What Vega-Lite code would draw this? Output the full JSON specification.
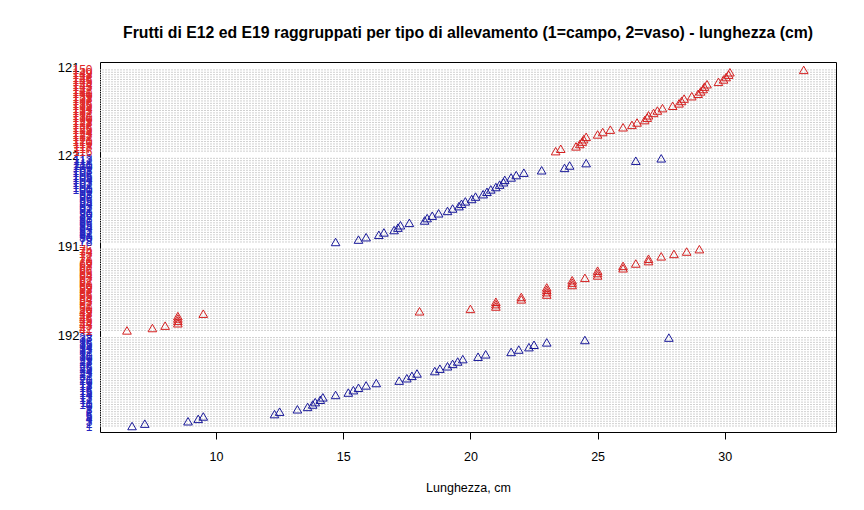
{
  "$schema": "https://vega.github.io/schema/vega-lite/v6.json",
  "width": 736,
  "height": 370,
  "autosize": {"type": "none"},
  "padding": {"left": 100, "top": 62, "right": 28, "bottom": 78},
  "background": "white",
  "config": {
    "view": {"stroke": "black", "strokeWidth": 1},
    "font": "Liberation Sans"
  },
  "title": {
    "text": "Frutti di E12 ed E19 raggruppati per tipo di allevamento (1=campo, 2=vaso) - lunghezza (cm)",
    "fontSize": 15.8,
    "fontWeight": "bold",
    "font": "Liberation Sans",
    "anchor": "middle",
    "color": "black",
    "offset": 20
  },
  "data": {
    "values": [
      {"g": "192", "tipo": "2", "row": 1, "lunghezza": 6.7},
      {"g": "192", "tipo": "2", "row": 2, "lunghezza": 7.2},
      {"g": "192", "tipo": "2", "row": 3, "lunghezza": 8.9},
      {"g": "192", "tipo": "2", "row": 4, "lunghezza": 9.3},
      {"g": "192", "tipo": "2", "row": 5, "lunghezza": 9.5},
      {"g": "192", "tipo": "2", "row": 6, "lunghezza": 12.3},
      {"g": "192", "tipo": "2", "row": 7, "lunghezza": 12.5},
      {"g": "192", "tipo": "2", "row": 8, "lunghezza": 13.2},
      {"g": "192", "tipo": "2", "row": 9, "lunghezza": 13.6},
      {"g": "192", "tipo": "2", "row": 10, "lunghezza": 13.8},
      {"g": "192", "tipo": "2", "row": 11, "lunghezza": 13.9},
      {"g": "192", "tipo": "2", "row": 12, "lunghezza": 14.1},
      {"g": "192", "tipo": "2", "row": 13, "lunghezza": 14.2},
      {"g": "192", "tipo": "2", "row": 14, "lunghezza": 14.7},
      {"g": "192", "tipo": "2", "row": 15, "lunghezza": 15.2},
      {"g": "192", "tipo": "2", "row": 16, "lunghezza": 15.4},
      {"g": "192", "tipo": "2", "row": 17, "lunghezza": 15.6},
      {"g": "192", "tipo": "2", "row": 18, "lunghezza": 15.9},
      {"g": "192", "tipo": "2", "row": 19, "lunghezza": 16.3},
      {"g": "192", "tipo": "2", "row": 20, "lunghezza": 17.2},
      {"g": "192", "tipo": "2", "row": 21, "lunghezza": 17.5},
      {"g": "192", "tipo": "2", "row": 22, "lunghezza": 17.7},
      {"g": "192", "tipo": "2", "row": 23, "lunghezza": 17.9},
      {"g": "192", "tipo": "2", "row": 24, "lunghezza": 18.6},
      {"g": "192", "tipo": "2", "row": 25, "lunghezza": 18.8},
      {"g": "192", "tipo": "2", "row": 26, "lunghezza": 19.1},
      {"g": "192", "tipo": "2", "row": 27, "lunghezza": 19.3},
      {"g": "192", "tipo": "2", "row": 28, "lunghezza": 19.5},
      {"g": "192", "tipo": "2", "row": 29, "lunghezza": 19.7},
      {"g": "192", "tipo": "2", "row": 30, "lunghezza": 20.3},
      {"g": "192", "tipo": "2", "row": 31, "lunghezza": 20.6},
      {"g": "192", "tipo": "2", "row": 32, "lunghezza": 21.6},
      {"g": "192", "tipo": "2", "row": 33, "lunghezza": 21.9},
      {"g": "192", "tipo": "2", "row": 34, "lunghezza": 22.3},
      {"g": "192", "tipo": "2", "row": 35, "lunghezza": 22.5},
      {"g": "192", "tipo": "2", "row": 36, "lunghezza": 23.0},
      {"g": "192", "tipo": "2", "row": 37, "lunghezza": 24.5},
      {"g": "192", "tipo": "2", "row": 38, "lunghezza": 27.8},
      {"g": "191", "tipo": "1", "row": 41, "lunghezza": 6.5},
      {"g": "191", "tipo": "1", "row": 42, "lunghezza": 7.5},
      {"g": "191", "tipo": "1", "row": 43, "lunghezza": 8.0},
      {"g": "191", "tipo": "1", "row": 44, "lunghezza": 8.5},
      {"g": "191", "tipo": "1", "row": 45, "lunghezza": 8.5},
      {"g": "191", "tipo": "1", "row": 46, "lunghezza": 8.5},
      {"g": "191", "tipo": "1", "row": 47, "lunghezza": 8.5},
      {"g": "191", "tipo": "1", "row": 48, "lunghezza": 9.5},
      {"g": "191", "tipo": "1", "row": 49, "lunghezza": 18.0},
      {"g": "191", "tipo": "1", "row": 50, "lunghezza": 20.0},
      {"g": "191", "tipo": "1", "row": 51, "lunghezza": 21.0},
      {"g": "191", "tipo": "1", "row": 52, "lunghezza": 21.0},
      {"g": "191", "tipo": "1", "row": 53, "lunghezza": 21.0},
      {"g": "191", "tipo": "1", "row": 54, "lunghezza": 22.0},
      {"g": "191", "tipo": "1", "row": 55, "lunghezza": 22.0},
      {"g": "191", "tipo": "1", "row": 56, "lunghezza": 23.0},
      {"g": "191", "tipo": "1", "row": 57, "lunghezza": 23.0},
      {"g": "191", "tipo": "1", "row": 58, "lunghezza": 23.0},
      {"g": "191", "tipo": "1", "row": 59, "lunghezza": 23.0},
      {"g": "191", "tipo": "1", "row": 60, "lunghezza": 24.0},
      {"g": "191", "tipo": "1", "row": 61, "lunghezza": 24.0},
      {"g": "191", "tipo": "1", "row": 62, "lunghezza": 24.0},
      {"g": "191", "tipo": "1", "row": 63, "lunghezza": 24.5},
      {"g": "191", "tipo": "1", "row": 64, "lunghezza": 25.0},
      {"g": "191", "tipo": "1", "row": 65, "lunghezza": 25.0},
      {"g": "191", "tipo": "1", "row": 66, "lunghezza": 25.0},
      {"g": "191", "tipo": "1", "row": 67, "lunghezza": 26.0},
      {"g": "191", "tipo": "1", "row": 68, "lunghezza": 26.0},
      {"g": "191", "tipo": "1", "row": 69, "lunghezza": 26.5},
      {"g": "191", "tipo": "1", "row": 70, "lunghezza": 27.0},
      {"g": "191", "tipo": "1", "row": 71, "lunghezza": 27.0},
      {"g": "191", "tipo": "1", "row": 72, "lunghezza": 27.5},
      {"g": "191", "tipo": "1", "row": 73, "lunghezza": 28.0},
      {"g": "191", "tipo": "1", "row": 74, "lunghezza": 28.5},
      {"g": "191", "tipo": "1", "row": 75, "lunghezza": 29.0},
      {"g": "122", "tipo": "2", "row": 78, "lunghezza": 14.7},
      {"g": "122", "tipo": "2", "row": 79, "lunghezza": 15.6},
      {"g": "122", "tipo": "2", "row": 80, "lunghezza": 15.9},
      {"g": "122", "tipo": "2", "row": 81, "lunghezza": 16.4},
      {"g": "122", "tipo": "2", "row": 82, "lunghezza": 16.6},
      {"g": "122", "tipo": "2", "row": 83, "lunghezza": 17.0},
      {"g": "122", "tipo": "2", "row": 84, "lunghezza": 17.15},
      {"g": "122", "tipo": "2", "row": 85, "lunghezza": 17.25},
      {"g": "122", "tipo": "2", "row": 86, "lunghezza": 17.6},
      {"g": "122", "tipo": "2", "row": 87, "lunghezza": 18.2},
      {"g": "122", "tipo": "2", "row": 88, "lunghezza": 18.3},
      {"g": "122", "tipo": "2", "row": 89, "lunghezza": 18.5},
      {"g": "122", "tipo": "2", "row": 90, "lunghezza": 18.75},
      {"g": "122", "tipo": "2", "row": 91, "lunghezza": 19.1},
      {"g": "122", "tipo": "2", "row": 92, "lunghezza": 19.3},
      {"g": "122", "tipo": "2", "row": 93, "lunghezza": 19.55},
      {"g": "122", "tipo": "2", "row": 94, "lunghezza": 19.65},
      {"g": "122", "tipo": "2", "row": 95, "lunghezza": 19.8},
      {"g": "122", "tipo": "2", "row": 96, "lunghezza": 20.05},
      {"g": "122", "tipo": "2", "row": 97, "lunghezza": 20.2},
      {"g": "122", "tipo": "2", "row": 98, "lunghezza": 20.5},
      {"g": "122", "tipo": "2", "row": 99, "lunghezza": 20.65},
      {"g": "122", "tipo": "2", "row": 100, "lunghezza": 20.8},
      {"g": "122", "tipo": "2", "row": 101, "lunghezza": 21.0},
      {"g": "122", "tipo": "2", "row": 102, "lunghezza": 21.15},
      {"g": "122", "tipo": "2", "row": 103, "lunghezza": 21.3},
      {"g": "122", "tipo": "2", "row": 104, "lunghezza": 21.35},
      {"g": "122", "tipo": "2", "row": 105, "lunghezza": 21.6},
      {"g": "122", "tipo": "2", "row": 106, "lunghezza": 21.8},
      {"g": "122", "tipo": "2", "row": 107, "lunghezza": 22.1},
      {"g": "122", "tipo": "2", "row": 108, "lunghezza": 22.8},
      {"g": "122", "tipo": "2", "row": 109, "lunghezza": 23.7},
      {"g": "122", "tipo": "2", "row": 110, "lunghezza": 23.9},
      {"g": "122", "tipo": "2", "row": 111, "lunghezza": 24.55},
      {"g": "122", "tipo": "2", "row": 112, "lunghezza": 26.5},
      {"g": "122", "tipo": "2", "row": 113, "lunghezza": 27.5},
      {"g": "121", "tipo": "1", "row": 116, "lunghezza": 23.35},
      {"g": "121", "tipo": "1", "row": 117, "lunghezza": 23.55},
      {"g": "121", "tipo": "1", "row": 118, "lunghezza": 24.15},
      {"g": "121", "tipo": "1", "row": 119, "lunghezza": 24.3},
      {"g": "121", "tipo": "1", "row": 120, "lunghezza": 24.4},
      {"g": "121", "tipo": "1", "row": 121, "lunghezza": 24.45},
      {"g": "121", "tipo": "1", "row": 122, "lunghezza": 24.55},
      {"g": "121", "tipo": "1", "row": 123, "lunghezza": 25.0},
      {"g": "121", "tipo": "1", "row": 124, "lunghezza": 25.2},
      {"g": "121", "tipo": "1", "row": 125, "lunghezza": 25.5},
      {"g": "121", "tipo": "1", "row": 126, "lunghezza": 26.0},
      {"g": "121", "tipo": "1", "row": 127, "lunghezza": 26.35},
      {"g": "121", "tipo": "1", "row": 128, "lunghezza": 26.55},
      {"g": "121", "tipo": "1", "row": 129, "lunghezza": 26.85},
      {"g": "121", "tipo": "1", "row": 130, "lunghezza": 26.95},
      {"g": "121", "tipo": "1", "row": 131, "lunghezza": 27.0},
      {"g": "121", "tipo": "1", "row": 132, "lunghezza": 27.2},
      {"g": "121", "tipo": "1", "row": 133, "lunghezza": 27.35},
      {"g": "121", "tipo": "1", "row": 134, "lunghezza": 27.55},
      {"g": "121", "tipo": "1", "row": 135, "lunghezza": 27.95},
      {"g": "121", "tipo": "1", "row": 136, "lunghezza": 28.2},
      {"g": "121", "tipo": "1", "row": 137, "lunghezza": 28.3},
      {"g": "121", "tipo": "1", "row": 138, "lunghezza": 28.4},
      {"g": "121", "tipo": "1", "row": 139, "lunghezza": 28.7},
      {"g": "121", "tipo": "1", "row": 140, "lunghezza": 28.95},
      {"g": "121", "tipo": "1", "row": 141, "lunghezza": 29.05},
      {"g": "121", "tipo": "1", "row": 142, "lunghezza": 29.15},
      {"g": "121", "tipo": "1", "row": 143, "lunghezza": 29.2},
      {"g": "121", "tipo": "1", "row": 144, "lunghezza": 29.3},
      {"g": "121", "tipo": "1", "row": 145, "lunghezza": 29.75},
      {"g": "121", "tipo": "1", "row": 146, "lunghezza": 29.95},
      {"g": "121", "tipo": "1", "row": 147, "lunghezza": 30.05},
      {"g": "121", "tipo": "1", "row": 148, "lunghezza": 30.15},
      {"g": "121", "tipo": "1", "row": 149, "lunghezza": 30.2},
      {"g": "121", "tipo": "1", "row": 150, "lunghezza": 33.1}
    ]
  },
  "layer": [
    {
      "mark": {"type": "rule", "stroke": "#d0d0d0", "strokeDash": [2, 1], "strokeWidth": 1},
      "encoding": {
        "y": {
          "field": "row",
          "type": "quantitative",
          "scale": {"domain": [-1.5, 153.3], "nice": false, "zero": false},
          "axis": {
            "orient": "left",
            "values": [1,2,3,4,5,6,7,8,9,10,11,12,13,14,15,16,17,18,19,20,21,22,23,24,25,26,27,28,29,30,31,32,33,34,35,36,37,38,41,42,43,44,45,46,47,48,49,50,51,52,53,54,55,56,57,58,59,60,61,62,63,64,65,66,67,68,69,70,71,72,73,74,75,78,79,80,81,82,83,84,85,86,87,88,89,90,91,92,93,94,95,96,97,98,99,100,101,102,103,104,105,106,107,108,109,110,111,112,113,116,117,118,119,120,121,122,123,124,125,126,127,128,129,130,131,132,133,134,135,136,137,138,139,140,141,142,143,144,145,146,147,148,149,150],
            "domain": false,
            "ticks": false,
            "grid": false,
            "title": null,
            "labelFontSize": 12,
            "labelPadding": 8,
            "labelOverlap": false,
            "labelFlush": false,
            "labelColor": {"condition": {"test": "datum.value < 40 || (datum.value > 76 && datum.value < 115)", "value": "#2424c0"}, "value": "#e02828"},
            "zindex": 2
          }
        }
      }
    },
    {
      "mark": {"type": "point", "shape": "triangle-up", "filled": false, "size": 75, "strokeWidth": 1, "opacity": 1},
      "encoding": {
        "x": {
          "field": "lunghezza",
          "type": "quantitative",
          "scale": {"domain": [5.44, 34.37], "nice": false, "zero": false},
          "axis": {
            "values": [10, 15, 20, 25, 30],
            "domain": false,
            "grid": false,
            "tickColor": "black",
            "tickSize": 7,
            "labelFontSize": 12.5,
            "labelColor": "black",
            "labelPadding": 11,
            "title": "Lunghezza, cm",
            "titleFontSize": 12.5,
            "titleFontWeight": "normal",
            "titleColor": "black",
            "titlePadding": 19
          }
        },
        "y": {
          "field": "row",
          "type": "quantitative",
          "axis": {
            "orient": "left",
            "values": [39, 76, 114, 151],
            "labelExpr": "datum.value == 151 ? '121' : datum.value == 114 ? '122' : datum.value == 76 ? '191' : '192'",
            "domain": false,
            "ticks": false,
            "grid": false,
            "title": null,
            "labelFontSize": 13,
            "labelPadding": 21,
            "labelColor": "black",
            "labelOverlap": false,
            "labelFlush": false,
            "zindex": 1
          }
        },
        "color": {
          "field": "tipo",
          "type": "nominal",
          "scale": {"domain": ["1", "2"], "range": ["#d42020", "#1a1a9a"]},
          "legend": null
        }
      }
    }
  ],
  "resolve": {"axis": {"y": "independent"}}
}
